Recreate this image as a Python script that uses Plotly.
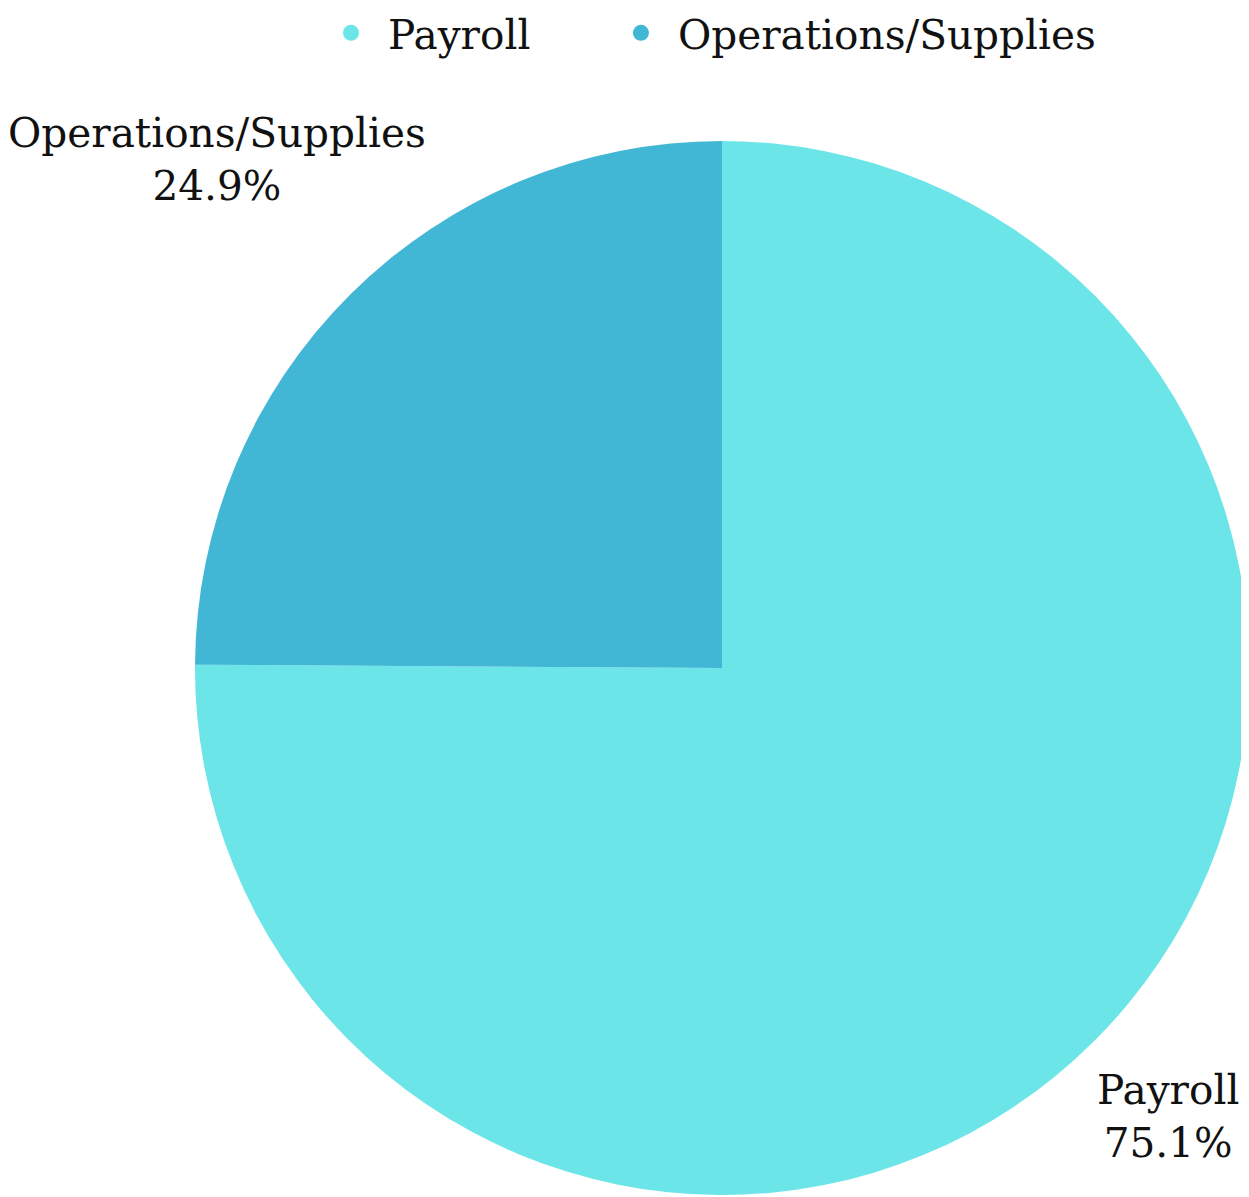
import math
import plotly.graph_objects as go

labels = ["Payroll", "Operations/Supplies"]
values = [75.1, 24.9]
colors = ["#6BE5E8", "#42B7D5"]

FONT = "DejaVu Serif"
FSIZE = 40.6
TEXT_COLOR = "#111111"
# radial distance of each outside label centre, in pie radii
label_dist = [1.20, 1.36]
# left edge (paper x) of each legend entry
legend_x = [0.1129, 0.388]

fig = go.Figure()
fig.add_trace(
    go.Pie(
        labels=labels,
        values=values,
        sort=False,
        direction="clockwise",
        rotation=0,
        marker=dict(colors=colors, line=dict(width=0)),
        textinfo="none",
        hoverinfo="skip",
        showlegend=False,
        domain=dict(x=[0, 1], y=[0, 1]),
    )
)

legend_names = ["legend", "legend2"]
# legend entries with circular symbols
for lab, col, lg in zip(labels, colors, legend_names):
    fig.add_trace(
        go.Scatter(
            x=[None], y=[None], mode="markers", name=lab,
            marker=dict(symbol="circle", size=40, color=col),
            hoverinfo="skip", legend=lg,
        )
    )

# outside labels placed along each slice's mid-angle
total = sum(values)
cum = 0.0
annotations = []
for lab, val, k in zip(labels, values, label_dist):
    mid = (cum + val / 2) / total * 2 * math.pi
    cum += val
    x = 0.5 + 0.5 * k * math.sin(mid)
    y = 0.5 + 0.5 * k * math.cos(mid)
    annotations.append(
        dict(
            x=x, y=y, xref="paper", yref="paper",
            text=f"{lab}<br>{val / total * 100:.1f}%",
            showarrow=False, xanchor="center", yanchor="middle", align="center",
            font=dict(family=FONT, size=FSIZE, color=TEXT_COLOR),
        )
    )

def legend_style(xpos):
    return dict(
        orientation="h",
        x=xpos,
        xanchor="left",
        y=1.1338,
        yanchor="top",
        font=dict(family=FONT, size=FSIZE, color=TEXT_COLOR),
        itemwidth=64,
        bgcolor="rgba(0,0,0,0)",
    )

fig.update_layout(
    width=1249,
    height=1197,
    margin=dict(l=187, r=8, t=133, b=10, autoexpand=False),
    paper_bgcolor="white",
    plot_bgcolor="white",
    font=dict(family=FONT, size=FSIZE, color=TEXT_COLOR),
    xaxis=dict(visible=False),
    yaxis=dict(visible=False),
    annotations=annotations,
    showlegend=True,
    legend=legend_style(legend_x[0]),
    legend2=legend_style(legend_x[1]),
)

fig.write_html("out.html")
